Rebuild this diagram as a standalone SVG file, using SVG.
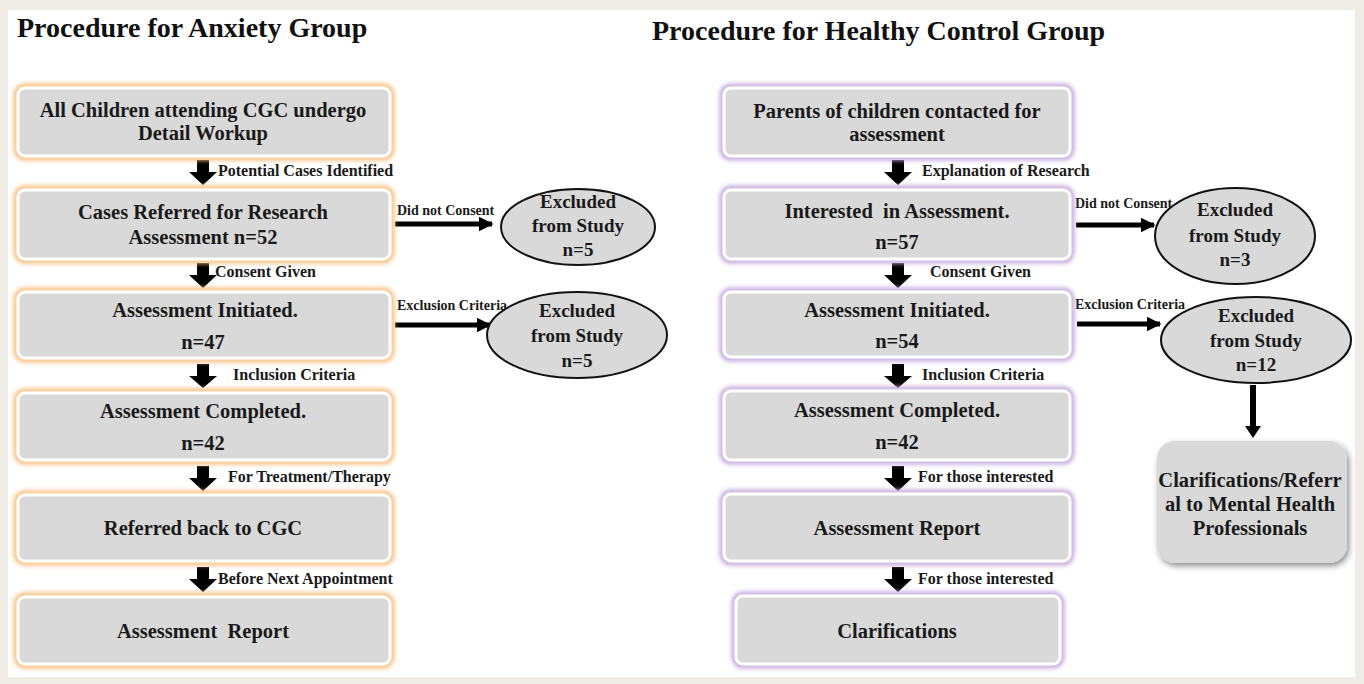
<svg xmlns="http://www.w3.org/2000/svg" width="1364" height="684" viewBox="0 0 1364 684">
<defs>
<filter id="glow" x="-10%" y="-20%" width="120%" height="140%"><feGaussianBlur stdDeviation="2"/></filter>
<filter id="shadow" x="-10%" y="-10%" width="130%" height="130%"><feGaussianBlur in="SourceAlpha" stdDeviation="3"/><feOffset dx="2" dy="3"/><feComponentTransfer><feFuncA type="linear" slope="0.45"/></feComponentTransfer><feMerge><feMergeNode/><feMergeNode in="SourceGraphic"/></feMerge></filter>
<marker id="ah" viewBox="0 0 10 10" refX="9" refY="5" markerWidth="3" markerHeight="3" orient="auto"><path d="M0,0 L10,5 L0,10 z" fill="#000"/></marker>
</defs>
<style>
.bg{fill:#efece6}
text{white-space:pre}
.title{font-family:"Liberation Serif",serif;font-weight:bold;font-size:28px;fill:#111}
.bt{font-family:"Liberation Serif",serif;font-weight:bold;font-size:20.5px;fill:#1a1a1a;text-anchor:middle}
.et{font-family:"Liberation Serif",serif;font-weight:bold;font-size:19px;fill:#1a1a1a;text-anchor:middle}
.lb{font-family:"Liberation Serif",serif;font-weight:bold;font-size:16px;fill:#1a1a1a}
.sl{font-family:"Liberation Serif",serif;font-weight:bold;font-size:14px;fill:#1a1a1a}
.og{fill:none;stroke:#f7be7c;stroke-width:5;filter:url(#glow)}
.pg{fill:none;stroke:#c4a8dc;stroke-width:5;filter:url(#glow)}
.box{fill:#d9d9d9;stroke:#fff;stroke-width:3}
.ell{fill:#d9d9d9;stroke:#111;stroke-width:2}
.harrow{stroke:#000;stroke-width:5;fill:none}
</style>
<rect class="bg" x="0" y="0" width="1364" height="684"/>
<rect x="8" y="10" width="1347" height="667" fill="#fff"/>
<text class="title" x="17" y="37">Procedure for Anxiety Group</text>
<text class="title" x="652" y="40">Procedure for Healthy Control Group</text>

<g id="connectors">
<g fill="#000">
<path d="M197,160 h12 v12 h8 l-14,13 l-14,-13 h8 z"/>
<path d="M197,263 h12 v12 h8 l-14,13 l-14,-13 h8 z"/>
<path d="M197,364 h12 v12 h8 l-14,12 l-14,-12 h8 z"/>
<path d="M197,466 h12 v12 h8 l-14,13 l-14,-13 h8 z"/>
<path d="M197,567 h12 v12 h8 l-14,13 l-14,-13 h8 z"/>
<path d="M892,160 h12 v12 h8 l-14,13 l-14,-13 h8 z"/>
<path d="M892,263 h12 v12 h8 l-14,13 l-14,-13 h8 z"/>
<path d="M892,364 h12 v12 h8 l-14,12 l-14,-12 h8 z"/>
<path d="M892,466 h12 v12 h8 l-14,13 l-14,-13 h8 z"/>
<path d="M892,567 h12 v12 h8 l-14,13 l-14,-13 h8 z"/>
<path d="M1250,385 h6 v41 h5 l-8,12 l-8,-12 h5 z"/>
</g>
<line class="harrow" x1="395" y1="224" x2="492" y2="224" marker-end="url(#ah)"/>
<line class="harrow" x1="395" y1="325" x2="490" y2="325" marker-end="url(#ah)"/>
<line class="harrow" x1="1076" y1="225" x2="1154" y2="225" marker-end="url(#ah)"/>
<line class="harrow" x1="1077" y1="324" x2="1160" y2="324" marker-end="url(#ah)"/>
<text class="lb" x="218" y="176">Potential Cases Identified</text>
<text class="lb" x="215" y="277">Consent Given</text>
<text class="lb" x="233" y="380">Inclusion Criteria</text>
<text class="lb" x="228" y="482">For Treatment/Therapy</text>
<text class="lb" x="218" y="584">Before Next Appointment</text>
<text class="sl" x="397" y="215">Did not Consent</text>
<text class="sl" x="397" y="310">Exclusion Criteria</text>
<text class="lb" x="922" y="176">Explanation of Research</text>
<text class="lb" x="930" y="277">Consent Given</text>
<text class="lb" x="922" y="380">Inclusion Criteria</text>
<text class="lb" x="918" y="482">For those interested</text>
<text class="lb" x="918" y="584">For those interested</text>
<text class="sl" x="1075" y="208">Did not Consent</text>
<text class="sl" x="1075" y="309">Exclusion Criteria</text>
</g>

<g id="a1"><rect class="og" x="16" y="86" width="376" height="72" rx="9"/><rect class="box" x="18" y="88" width="372" height="68" rx="7"/>
<text class="bt" x="203" y="117">All Children attending CGC undergo</text><text class="bt" x="203" y="140">Detail Workup</text></g>
<g id="a2"><rect class="og" x="16" y="188" width="376" height="73" rx="9"/><rect class="box" x="18" y="190" width="372" height="69" rx="7"/>
<text class="bt" x="203" y="219">Cases Referred for Research</text><text class="bt" x="203" y="244">Assessment n=52</text></g>
<g id="a3"><rect class="og" x="16" y="290" width="376" height="70" rx="9"/><rect class="box" x="18" y="292" width="372" height="66" rx="7"/>
<text class="bt" x="205" y="317">Assessment Initiated.</text><text class="bt" x="203" y="349">n=47</text></g>
<g id="a4"><rect class="og" x="16" y="391" width="376" height="71" rx="9"/><rect class="box" x="18" y="393" width="372" height="67" rx="7"/>
<text class="bt" x="203" y="418">Assessment Completed.</text><text class="bt" x="203" y="450">n=42</text></g>
<g id="a5"><rect class="og" x="16" y="493" width="376" height="70" rx="9"/><rect class="box" x="18" y="495" width="372" height="66" rx="7"/>
<text class="bt" x="203" y="535">Referred back to CGC</text></g>
<g id="a6"><rect class="og" x="16" y="595" width="376" height="71" rx="9"/><rect class="box" x="18" y="597" width="372" height="67" rx="7"/>
<text class="bt" x="203" y="638">Assessment  Report</text></g>

<g id="ae1"><ellipse class="ell" cx="578" cy="227" rx="77" ry="38"/>
<text class="et" x="578" y="208">Excluded</text><text class="et" x="578" y="232">from Study</text><text class="et" x="578" y="256">n=5</text></g>
<g id="ae2"><ellipse class="ell" cx="577" cy="335" rx="90" ry="43"/>
<text class="et" x="577" y="317">Excluded</text><text class="et" x="577" y="342">from Study</text><text class="et" x="577" y="367">n=5</text></g>

<g id="h1"><rect class="pg" x="722" y="86" width="350" height="72" rx="9"/><rect class="box" x="724" y="88" width="346" height="68" rx="7"/>
<text class="bt" x="897" y="118">Parents of children contacted for</text><text class="bt" x="897" y="141">assessment</text></g>
<g id="h2"><rect class="pg" x="722" y="188" width="350" height="73" rx="9"/><rect class="box" x="724" y="190" width="346" height="69" rx="7"/>
<text class="bt" x="897" y="218">Interested  in Assessment.</text><text class="bt" x="897" y="249">n=57</text></g>
<g id="h3"><rect class="pg" x="722" y="290" width="350" height="69" rx="9"/><rect class="box" x="724" y="292" width="346" height="65" rx="7"/>
<text class="bt" x="897" y="317">Assessment Initiated.</text><text class="bt" x="897" y="348">n=54</text></g>
<g id="h4"><rect class="pg" x="722" y="389" width="350" height="73" rx="9"/><rect class="box" x="724" y="391" width="346" height="69" rx="7"/>
<text class="bt" x="897" y="417">Assessment Completed.</text><text class="bt" x="897" y="449">n=42</text></g>
<g id="h5"><rect class="pg" x="722" y="492" width="350" height="71" rx="9"/><rect class="box" x="724" y="494" width="346" height="67" rx="7"/>
<text class="bt" x="897" y="535">Assessment Report</text></g>
<g id="h6"><rect class="pg" x="734" y="594" width="328" height="72" rx="9"/><rect class="box" x="736" y="596" width="324" height="68" rx="7"/>
<text class="bt" x="897" y="638">Clarifications</text></g>

<g id="he1"><ellipse class="ell" cx="1235" cy="236" rx="80" ry="48"/>
<text class="et" x="1235" y="216">Excluded</text><text class="et" x="1235" y="242">from Study</text><text class="et" x="1235" y="266">n=3</text></g>
<g id="he2"><ellipse class="ell" cx="1256" cy="340" rx="95" ry="43"/>
<text class="et" x="1256" y="322">Excluded</text><text class="et" x="1256" y="347">from Study</text><text class="et" x="1256" y="371">n=12</text></g>
<g id="hr"><rect x="1157" y="441" width="190" height="122" rx="18" fill="#d9d9d9" filter="url(#shadow)"/>
<text class="bt" x="1250" y="487" font-size="19.5">Clarifications/Referr</text><text class="bt" x="1250" y="511" font-size="19.5">al to Mental Health</text><text class="bt" x="1250" y="535" font-size="19.5">Professionals</text></g>
</svg>
